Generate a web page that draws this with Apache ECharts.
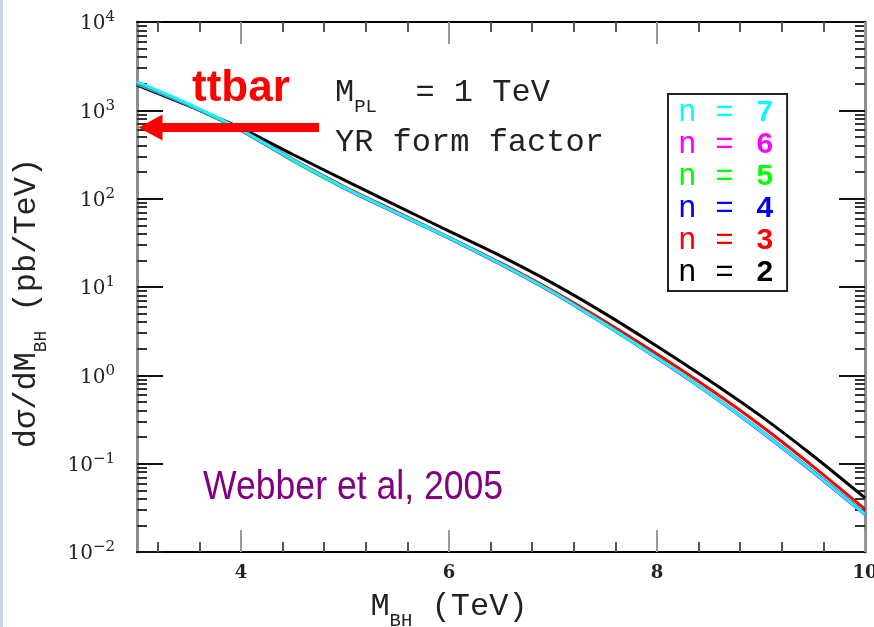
<!DOCTYPE html>
<html><head><meta charset="utf-8">
<script src="https://cdn.jsdelivr.net/npm/echarts@6/dist/echarts.min.js"></script>
<style>html,body{margin:0;padding:0;background:#fff}#c{width:874px;height:627px}</style>
</head><body><div id="c"></div>
<script>
// Black-hole mass (TeV)
const massTeV = [3, 3.5, 4, 4.5, 5, 5.5, 6, 6.5, 7, 7.5, 8, 8.5, 9, 9.5, 10];
// dσ/dM_BH (pb/TeV) per number of extra dimensions n
const n2 = [1936, 1122, 631, 316, 161, 82.8, 43.0, 22.4, 11.0, 5.0, 2.14, 0.88, 0.345, 0.123, 0.041];
const n3 = [2028, 1148, 603, 279, 135.5, 70.5, 36.6, 18.6, 9.0, 4.07, 1.74, 0.708, 0.269, 0.0933, 0.0305];
const n4 = [1960, 1130, 592, 270, 131, 68.4, 35.9, 18.1, 8.65, 3.78, 1.575, 0.633, 0.236, 0.082, 0.0272];
const n5 = [1990, 1140, 590, 268, 130, 67.8, 35.5, 17.9, 8.6, 3.75, 1.57, 0.628, 0.232, 0.0805, 0.0268];
const n6 = [2060, 1160, 598, 272, 131, 68.2, 35.8, 18.0, 8.6, 3.76, 1.56, 0.622, 0.230, 0.080, 0.0265];
const n7 = [2099, 1175, 603, 275, 132.4, 68.9, 36.1, 18.2, 8.71, 3.80, 1.58, 0.631, 0.234, 0.0813, 0.0269];
// ttbar reference arrow level
const ttbarLevel = 640;
const ttbarFrom = 4.75, ttbarTo = 3.13;
// tick values
const xMajorTicks = [4, 6, 8, 10];
const xMinorTicks = [3.2, 3.6, 4.4, 4.8, 5.2, 5.6, 6.4, 6.8, 7.2, 7.6, 8.4, 8.8, 9.2, 9.6];
const yDecades = [-2, -1, 0, 1, 2, 3, 4];
const yMinorMultipliers = [2, 3, 4, 5, 6, 7, 8, 9];

const yMinorTicks = [];
yDecades.slice(0, -1).forEach(d => yMinorMultipliers.forEach(k => yMinorTicks.push(Math.log10(k) + d)));

const seriesDefs = [
  { name: 'n = 2', data: n2, color: '#000000' },
  { name: 'n = 3', data: n3, color: '#ff0000' },
  { name: 'n = 4', data: n4, color: '#0000ff' },
  { name: 'n = 5', data: n5, color: '#00ff00' },
  { name: 'n = 6', data: n6, color: '#ff00ff' },
  { name: 'n = 7', data: n7, color: '#00ffff' }
];

const mono = '"Liberation Mono", "DejaVu Sans Mono", monospace';
const serif = '"DejaVu Serif", "Liberation Serif", serif';

function xAx(pos, ticks, len, tickColor, withLine, withLabel) {
  return {
    type: 'value', min: 3, max: 10, position: pos,
    axisLine: { show: withLine, onZero: false, lineStyle: { color: '#000', width: 2 } },
    axisTick: { show: true, inside: true, length: len, customValues: ticks, lineStyle: { color: tickColor, width: 2 } },
    axisLabel: withLabel ? { show: true, customValues: ticks, margin: 12, fontFamily: serif, fontSize: 18, fontWeight: 'bold', color: '#222' } : { show: false },
    splitLine: { show: false }
  };
}
function yAx(pos, ticks, len, tickColor, withLine, withLabel) {
  const a = {
    type: 'value', min: -2, max: 4, position: pos,
    axisLine: { show: withLine, onZero: false, lineStyle: { color: '#8c8c8c', width: 3 } },
    axisTick: { show: true, inside: true, length: len, customValues: ticks, lineStyle: { color: tickColor, width: 2 } },
    axisLabel: { show: false },
    splitLine: { show: false }
  };
  if (withLabel) {
    a.axisLabel = {
      show: true, customValues: ticks, margin: 22,
      formatter: v => '{b|10}{s|' + (v < 0 ? '\u2212' + (-v) : v) + '}',
      rich: {
        b: { fontFamily: serif, fontSize: 20, color: '#222', verticalAlign: 'bottom', lineHeight: 24 },
        s: { fontFamily: serif, fontSize: 15, color: '#222', verticalAlign: 'top', lineHeight: 15 }
      }
    };
  }
  return a;
}

const xAxes = [
  xAx('bottom', xMajorTicks, 22, '#9a9a9a', true, true),
  xAx('bottom', xMinorTicks, 10, '#555', false, false),
  xAx('top', xMajorTicks, 22, '#9a9a9a', true, false),
  xAx('top', xMinorTicks, 10, '#555', false, false)
];
xAxes[0].name = '{m|M}{s|BH}{m| (TeV)}';
xAxes[0].nameLocation = 'middle';
xAxes[0].nameGap = 46;
xAxes[0].nameTextStyle = {
  padding: [0, 104, 0, 0],
  rich: {
    m: { fontFamily: mono, fontSize: 32, color: '#222', lineHeight: 32, padding: [0, 0, 7, 0], verticalAlign: 'bottom' },
    s: { fontFamily: mono, fontSize: 19, color: '#222', lineHeight: 19, verticalAlign: 'bottom' }
  }
};

const yMajor = yAx('left', yDecades, 26, '#111', true, true);
yMajor.name = '{m|d\u03c3/dM}{s|BH}{m| (pb/TeV)}';
yMajor.nameLocation = 'middle';
yMajor.nameGap = 87;
yMajor.nameTextStyle = {
  padding: [0, 32, 0, 0],
  rich: {
    m: { fontFamily: mono, fontSize: 32, color: '#222', lineHeight: 32, padding: [0, 0, 7, 0], verticalAlign: 'bottom' },
    s: { fontFamily: mono, fontSize: 18, color: '#222', lineHeight: 18, verticalAlign: 'bottom' }
  }
};

const yAxes = [
  { type: 'log', logBase: 10, min: 0.01, max: 10000, show: false, axisLine: { onZero: false } },
  yMajor,
  yAx('left', yMinorTicks, 10, '#333', false, false),
  yAx('right', yDecades, 26, '#111', true, false),
  yAx('right', yMinorTicks, 10, '#333', false, false)
];

const legendRich = {};
seriesDefs.forEach(s => {
  const d = s.name.slice(-1);
  legendRich['n' + d] = { color: s.color, fontFamily: mono, fontSize: 31, lineHeight: 30 };
  legendRich['d' + d] = { color: s.color, fontFamily: '"Liberation Sans", Arial, sans-serif', fontWeight: 'bold', fontSize: 30, lineHeight: 30, padding: [0, 0, 0, 4] };
});

const series = seriesDefs.map((s, i) => {
  const o = {
    name: s.name, type: 'line', xAxisIndex: 0, yAxisIndex: 0,
    data: massTeV.map((x, j) => [x, s.data[j]]),
    showSymbol: false, symbol: 'none', smooth: 0.3,
    lineStyle: { color: s.color, width: 3 }, itemStyle: { color: s.color },
    z: 2 + i, animation: false
  };
  if (i === 0) {
    o.markLine = {
      silent: true, animation: false,
      symbol: ['none', 'none'],
      lineStyle: { color: '#ff0000', width: 9, type: 'solid', opacity: 1 },
      label: { show: false },
      emphasis: { disabled: true },
      data: [[{ coord: [ttbarFrom, ttbarLevel] }, { coord: [ttbarTo, ttbarLevel] }]],
      z: 20
    };
  }
  return o;
});
// arrow head for ttbar marker
series.push({
  name: 'ttbar', type: 'scatter', xAxisIndex: 0, yAxisIndex: 0, silent: true,
  data: [[ttbarTo, ttbarLevel]],
  symbol: 'triangle', symbolSize: [26, 24], symbolRotate: 90,
  itemStyle: { color: '#ff0000', opacity: 1 }, z: 20, animation: false
});

const chart = echarts.init(document.getElementById('c'), null, { renderer: 'canvas' });
chart.setOption({
  animation: false,
  backgroundColor: '#fff',
  grid: { left: 137, right: 9, top: 22, bottom: 75, containLabel: false, outerBoundsMode: 'none' },
  xAxis: xAxes,
  yAxis: yAxes,
  legend: {
    orient: 'vertical', left: 668, top: 94,
    data: ['n = 7', 'n = 6', 'n = 5', 'n = 4', 'n = 3', 'n = 2'],
    itemWidth: 0, itemHeight: 0, itemGap: 1,
    padding: [3, 14, 3, 4],
    borderColor: '#222', borderWidth: 2, backgroundColor: '#fff',
    selectedMode: false,
    formatter: name => { const d = name.slice(-1); return '{n' + d + '|n = }{d' + d + '|' + d + '}'; },
    textStyle: { rich: legendRich }
  },
  series: series,
  graphic: [
    { type: 'rect', left: 0, top: 0, shape: { width: 3, height: 627 }, style: { fill: '#c9d1e3' } },
    { type: 'text', x: 192, y: 89, style: { text: 'ttbar', font: 'bold 44px "Liberation Sans", Arial, sans-serif', fill: '#ff0000', verticalAlign: 'middle' } },
    { type: 'text', x: 335, y: 100, style: {
        text: '{m|M}{s|PL}{m|  = 1 TeV}', verticalAlign: 'middle',
        rich: {
          m: { fontFamily: mono, fontSize: 32, fill: '#222', lineHeight: 32, padding: [0, 0, 7, 0], verticalAlign: 'bottom' },
          s: { fontFamily: mono, fontSize: 19, fill: '#222', lineHeight: 19, verticalAlign: 'bottom' }
        } } },
    { type: 'text', x: 335, y: 143, style: { text: 'YR form factor', font: '32px ' + mono, fill: '#222', verticalAlign: 'middle' } },
    { type: 'text', x: 203, y: 488, scaleX: 0.89, style: { text: 'Webber et al, 2005', font: '40px "Liberation Sans", Arial, sans-serif', fill: '#800080', verticalAlign: 'middle' } }
  ]
});
</script>
</body></html>
